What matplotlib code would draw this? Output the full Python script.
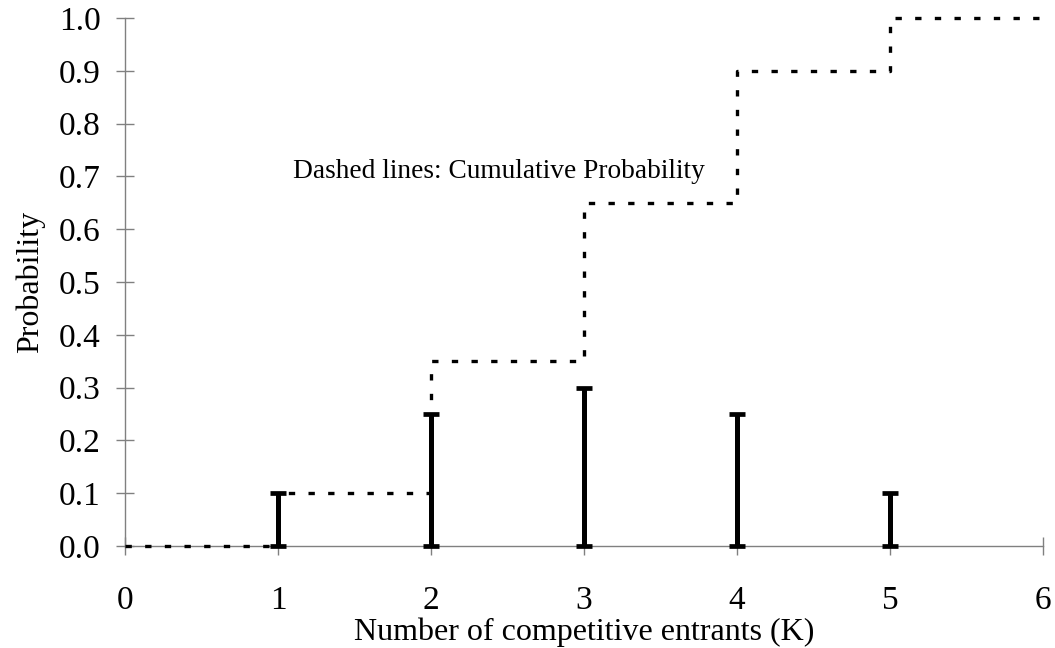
import numpy as np
import matplotlib
matplotlib.use("Agg")
import matplotlib.pyplot as plt

# probability mass at each number of entrants
k_vals = [1, 2, 3, 4, 5]
prob = [0.10, 0.25, 0.30, 0.25, 0.10]
# cumulative probability (step function, post)
cum_x = [0, 1, 2, 3, 4, 5, 6]
cum_y = [0.0, 0.10, 0.35, 0.65, 0.90, 1.00, 1.00]

x_ticks = [0, 1, 2, 3, 4, 5, 6]
y_ticks = [0.0, 0.1, 0.2, 0.3, 0.4, 0.5, 0.6, 0.7, 0.8, 0.9, 1.0]

plt.rcParams["font.family"] = ["Liberation Serif", "DejaVu Serif"]
AXCOL = "#808080"

fig = plt.figure(figsize=(10.55, 6.48), dpi=100)
ax = fig.add_axes([0.1185, 0.1574, 0.8701, 0.8148])

# dashed cumulative steps
ax.plot(cum_x, cum_y, drawstyle="steps-post", color="black", lw=2.4,
        dashes=(1.9, 4.0), dash_capstyle="butt", zorder=3, clip_on=False)

# stems with caps at both ends
ax.errorbar(k_vals, [0] * len(k_vals), yerr=[[0] * len(k_vals), prob],
            fmt="none", ecolor="black", elinewidth=3.6, capsize=5.8,
            capthick=3.4, zorder=4, clip_on=False)

ax.set_xlim(0, 6)
ax.set_ylim(0, 1.0)
ax.set_xticks(x_ticks)
ax.set_yticks(y_ticks)
ax.set_yticklabels([f"{v:.1f}" for v in y_ticks])
ax.tick_params(direction="inout", length=13, width=1, color=AXCOL,
               labelsize=24)
ax.tick_params(axis="y", pad=11)
ax.tick_params(axis="x", pad=22)
for s in ("top", "right"):
    ax.spines[s].set_visible(False)
for s in ("left", "bottom"):
    ax.spines[s].set_color(AXCOL)
    ax.spines[s].set_linewidth(1)
ax.spines["bottom"].set_zorder(1)

ax.set_xlabel("Number of competitive entrants (K)", fontsize=23, labelpad=1)
ax.set_ylabel("Probability", fontsize=23, labelpad=10)

ax.text(1.1, 0.71, "Dashed lines: Cumulative Probability", fontsize=19.7,
        ha="left", va="center")

fig.savefig("out.png", dpi=100)
